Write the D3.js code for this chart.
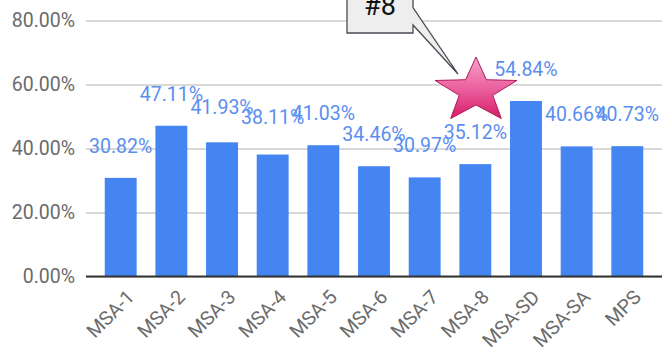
<!DOCTYPE html>
<html>
<head>
<meta charset="utf-8">
<script src="https://cdn.jsdelivr.net/npm/d3@7"></script>
<style>
  html, body { margin: 0; padding: 0; background: #fff; }
  svg { display: block; }
  text { font-family: Roboto, "Noto Sans", sans-serif; }
</style>
</head>
<body>
<svg id="chart" width="663" height="356"></svg>
<script>
// Share of each model variant, in percent
const categories = ["MSA-1", "MSA-2", "MSA-3", "MSA-4", "MSA-5", "MSA-6", "MSA-7", "MSA-8", "MSA-SD", "MSA-SA", "MPS"];
const values = [30.82, 47.11, 41.93, 38.11, 41.03, 34.46, 30.97, 35.12, 54.84, 40.66, 40.73];
const yTicks = [0, 20, 40, 60, 80];
const calloutText = "#8";

(function draw() {
  const svg = d3.select("#chart");
  const plotLeft = 86, plotRight = 662, plotTop = 20.5, plotBottom = 276.5;

  const x = d3.scaleBand().domain(categories).range([plotLeft, plotRight])
    .paddingInner(0.37).paddingOuter(0.37);
  const y = d3.scaleLinear().domain([0, 80]).range([plotBottom, plotTop]);

  // Gridlines and y-axis labels
  const yAxis = d3.axisLeft(y).tickValues(yTicks)
    .tickSize(-(plotRight - plotLeft)).tickPadding(11)
    .tickFormat(d => d3.format(".2f")(d) + "%");
  const gy = svg.append("g").attr("transform", `translate(${plotLeft},0)`).call(yAxis);
  gy.select(".domain").remove();
  gy.selectAll(".tick line").attr("stroke", "#cccccc").attr("stroke-width", 1.3);
  gy.selectAll(".tick text").attr("fill", "#6b6b6b").attr("font-size", 19.5)
    .attr("font-family", "Roboto, sans-serif");

  // Bars
  svg.append("g").selectAll("rect").data(values).join("rect")
    .attr("x", (d, i) => x(categories[i]))
    .attr("y", d => y(d))
    .attr("width", x.bandwidth())
    .attr("height", d => y(0) - y(d))
    .attr("fill", "#4585f2");

  // Baseline
  svg.append("line")
    .attr("x1", plotLeft).attr("x2", plotRight)
    .attr("y1", y(0)).attr("y2", y(0))
    .attr("stroke", "#333").attr("stroke-width", 2);

  // X-axis category labels, rotated
  const xAxis = d3.axisBottom(x).tickSize(0).tickPadding(0);
  const gx = svg.append("g").attr("transform", `translate(0,${y(0)})`).call(xAxis);
  gx.select(".domain").remove();
  gx.selectAll(".tick text")
    .attr("fill", "#6b6b6b").attr("font-size", 19.5).attr("font-family", "Roboto, sans-serif")
    .attr("text-anchor", "end")
    .attr("transform", "translate(10,17) rotate(-45)")
    .attr("dy", "0.35em").attr("y", 0);

  // Value labels above bars; a few are lifted slightly where they crowd a neighbour
  const lift = { "MSA-3": 3, "MSA-4": 5 };
  svg.append("g").selectAll("text").data(values).join("text")
    .attr("x", (d, i) => x(categories[i]) + x.bandwidth() / 2)
    .attr("y", (d, i) => y(d) - 32 - (lift[categories[i]] || 0))
    .attr("dy", "0.35em")
    .attr("text-anchor", "middle")
    .attr("font-size", 19.5)
    .attr("fill", "#5a8eef")
    .text(d => d3.format(".2f")(d) + "%");

  // Callout box with its pointer
  const g = svg.append("g");
  const bx0 = 347, bx1 = 413, by1 = 33;
  g.append("path")
    .attr("d", `M${bx0},-2 L${bx1},-2 L${bx1},7.5 L458,74 L${bx1},25 L${bx1},${by1} L${bx0},${by1} Z`)
    .attr("fill", "#eeeeee").attr("stroke", "#4a4a55").attr("stroke-width", 1.3)
    .attr("stroke-linejoin", "miter");
  g.append("text")
    .attr("x", (bx0 + bx1) / 2).attr("y", 15)
    .attr("text-anchor", "middle")
    .attr("font-family", "'Liberation Sans', Arial, sans-serif")
    .attr("font-size", 27).attr("fill", "#111")
    .text(calloutText);

  // Pink star marker
  const defs = svg.append("defs");
  const grad = defs.append("linearGradient").attr("id", "starGrad")
    .attr("x1", 0).attr("y1", 0).attr("x2", 0).attr("y2", 1);
  grad.append("stop").attr("offset", "0%").attr("stop-color", "#f7a1cb");
  grad.append("stop").attr("offset", "55%").attr("stop-color", "#ea5c9c");
  grad.append("stop").attr("offset", "100%").attr("stop-color", "#d41c68");

  const cx = 476, cy = 91, rx = 43, ry = 34, inner = 0.41;
  const pts = d3.range(10).map(k => {
    const a = -Math.PI / 2 + k * Math.PI / 5;
    const r = k % 2 === 0 ? 1 : inner;
    return [cx + rx * r * Math.cos(a), cy + ry * r * Math.sin(a)];
  });
  svg.append("path")
    .attr("d", d3.line()(pts) + "Z")
    .attr("fill", "url(#starGrad)")
    .attr("stroke", "#b3185a").attr("stroke-width", 1)
    .attr("stroke-linejoin", "miter");
})();
</script>
</body>
</html>
